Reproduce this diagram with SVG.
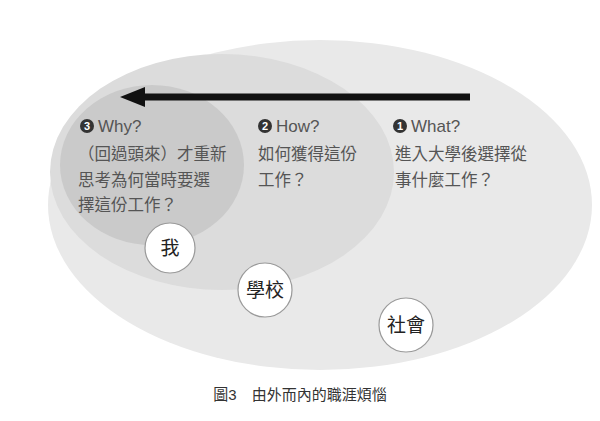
<svg xmlns="http://www.w3.org/2000/svg" width="600" height="421" viewBox="0 0 600 421">
<style>
text{font-family:"Liberation Sans","Noto Sans CJK TC",sans-serif;fill:#555}
.h{font-size:17px}
.b{font-size:16.5px}
.n{fill:#333}
.nt{fill:#fff;font-size:11px;font-weight:bold;text-anchor:middle}
.c{fill:#fff;stroke:#999;stroke-width:1.2}
.cl{font-size:19px;fill:#222;text-anchor:middle}
</style>
<defs><marker id="ah" markerWidth="6" markerHeight="4" refX="0" refY="2" orient="auto" markerUnits="strokeWidth"><path d="M0,0L-5,2L0,4z" fill="#111"/></marker></defs>
<rect width="600" height="421" fill="#fff"/>
<g id="outer"><ellipse cx="320" cy="205" rx="272" ry="165" fill="#e9e9e9"/></g>
<g id="middle"><ellipse cx="222" cy="172" rx="172" ry="118" fill="#dcdcdc"/></g>
<g id="inner"><ellipse cx="152" cy="165" rx="92" ry="80" fill="#cacaca"/></g>
<g id="connectors"><line x1="470" y1="97" x2="140" y2="97" stroke="#111" stroke-width="7"/><path d="M120,97L145,87L145,107z" fill="#111"/></g>
<g id="why"><circle cx="87" cy="126" r="7" class="n"/><text x="87" y="130" class="nt">3</text><text x="98" y="132" class="h">Why?</text>
<text x="78" y="160" class="b">（回過頭來）才重新</text><text x="78" y="186" class="b">思考為何當時要選</text><text x="78" y="211" class="b">擇這份工作？</text></g>
<g id="how"><circle cx="265" cy="126" r="7" class="n"/><text x="265" y="130" class="nt">2</text><text x="276" y="132" class="h">How?</text>
<text x="258" y="160" class="b">如何獲得這份</text><text x="258" y="186" class="b">工作？</text></g>
<g id="what"><circle cx="400" cy="126" r="7" class="n"/><text x="400" y="130" class="nt">1</text><text x="411" y="132" class="h">What?</text>
<text x="395" y="160" class="b">進入大學後選擇從</text><text x="395" y="186" class="b">事什麼工作？</text></g>
<g id="me"><circle cx="170" cy="248" r="25" class="c"/><text x="170" y="255" class="cl">我</text></g>
<g id="school"><circle cx="265" cy="290" r="27" class="c"/><text x="265" y="297" class="cl">學校</text></g>
<g id="society"><circle cx="406" cy="325" r="27" class="c"/><text x="406" y="332" class="cl">社會</text></g>
<text x="300" y="400" text-anchor="middle" style="font-size:15px;fill:#333">圖3　由外而內的職涯煩惱</text>
</svg>
